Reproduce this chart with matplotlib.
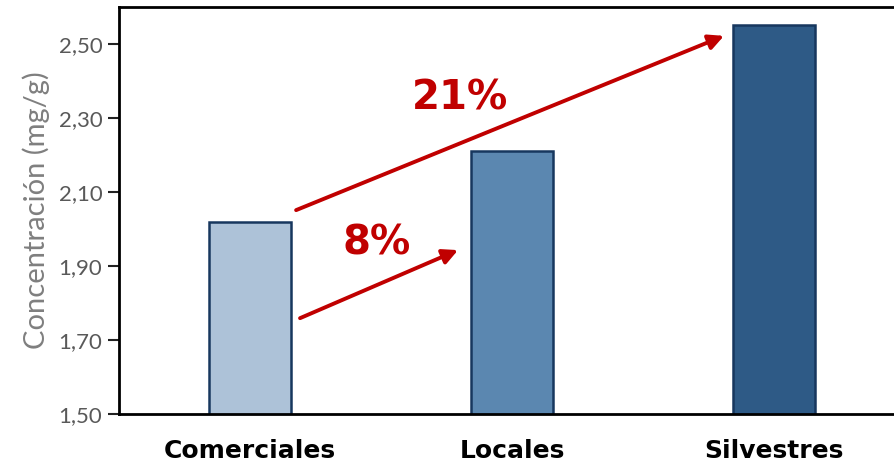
import numpy as np
import matplotlib.pyplot as plt
from matplotlib.ticker import FuncFormatter

categories = ['Comerciales', 'Locales', 'Silvestres']
values = [2.02, 2.21, 2.55]
bar_colors = ['#ADC2D8', '#5B87B0', '#2E5A86']
y_ticks = [1.50, 1.70, 1.90, 2.10, 2.30, 2.50]
increases = ['8%', '21%']

red = '#C00000'

fig = plt.figure(figsize=(8.94, 4.66), dpi=100)
ax = fig.add_axes([0.1331, 0.1116, 0.8669, 0.8734])

x = np.arange(len(categories))
ax.bar(x, values, width=0.313, color=bar_colors, edgecolor='#17375E', linewidth=1.8, zorder=2)

ax.set_xlim(-0.5, 2.458)
ax.set_ylim(1.5, 2.6)
ax.set_yticks(y_ticks)
ax.yaxis.set_major_formatter(FuncFormatter(lambda v, p: f'{v:.2f}'.replace('.', ',')))
ax.tick_params(axis='y', length=8, width=1.5, color='#222222', labelsize=16,
               labelcolor='#595959', pad=4)
for t in ax.get_yticklabels():
    t.set_family('Lato')
ax.set_xticks(x)
ax.set_xticklabels(categories, fontsize=18, fontweight='bold', family='DejaVu Sans')
ax.tick_params(axis='x', length=0, pad=18)

for s in ['left', 'bottom', 'top']:
    ax.spines[s].set_linewidth(2)
    ax.spines[s].set_color('black')
ax.spines['right'].set_visible(False)

ax.set_ylabel('Concentración (mg/g)', fontsize=21, color='#7F7F7F', family='Lato', labelpad=6)

# percentage arrows
arrow_kw = dict(arrowstyle='-|>,head_length=0.9,head_width=0.45', color=red, lw=2.8,
                shrinkA=0, shrinkB=0)
ax.annotate('', xy=(0.794, 1.943), xytext=(0.191, 1.759), arrowprops=arrow_kw, zorder=3)
ax.annotate('', xy=(1.809, 2.522), xytext=(0.176, 2.051), arrowprops=arrow_kw, zorder=3)

ax.text(0.485, 1.962, increases[0], color=red, fontsize=29, fontweight='bold',
        ha='center', va='center')
ax.text(0.80, 2.354, increases[1], color=red, fontsize=29, fontweight='bold',
        ha='center', va='center')

fig.savefig('out.png', dpi=100)
